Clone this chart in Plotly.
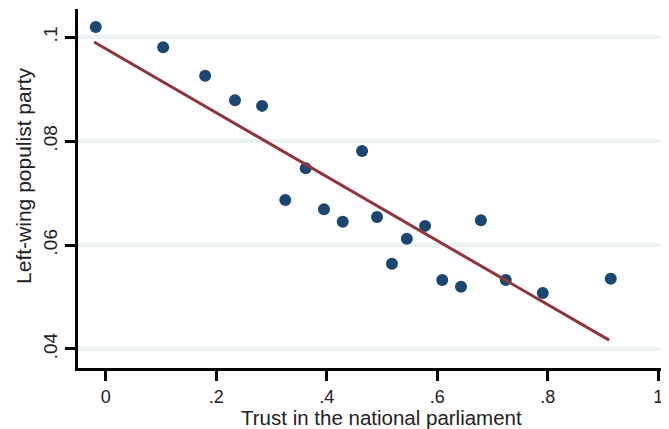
import plotly.graph_objects as go

trust = [-0.018, 0.104, 0.180, 0.234, 0.283, 0.325, 0.362, 0.395, 0.429, 0.464,
         0.491, 0.518, 0.545, 0.578, 0.609, 0.643, 0.679, 0.724, 0.791, 0.914]
leftpop = [0.1020, 0.0981, 0.0926, 0.0879, 0.0868, 0.0687, 0.0748, 0.0669, 0.0645, 0.0781,
           0.0654, 0.0564, 0.0612, 0.0637, 0.0533, 0.0520, 0.0648, 0.0533, 0.0508, 0.0535]

fit_x = [-0.021, 0.911]
fit_y = [0.0991, 0.0417]

x_ticks = [0, 0.2, 0.4, 0.6, 0.8, 1]
x_ticklabels = ["0", ".2", ".4", ".6", ".8", "1"]
y_ticks = [0.04, 0.06, 0.08, 0.1]
y_ticklabels = [".04", ".06", ".08", ".1"]

FONT = "Liberation Sans, Arial, sans-serif"

fig = go.Figure()
fig.add_trace(go.Scatter(x=trust, y=leftpop, mode="markers",
                         marker=dict(size=12, color="#1a476f"), showlegend=False))
fig.add_trace(go.Scatter(x=fit_x, y=fit_y, mode="lines",
                         line=dict(color="#90353b", width=3), showlegend=False))

fig.update_layout(
    width=661, height=421,
    margin=dict(l=70, r=0, t=1, b=61),
    paper_bgcolor="white", plot_bgcolor="white",
    font=dict(family=FONT, color="#222222"),
    xaxis=dict(range=[-0.0501, 1.0194], tickvals=x_ticks, ticktext=x_ticklabels,
               showgrid=False, zeroline=False, showline=True, linecolor="black", linewidth=3,
               ticks="outside", ticklen=10, tickwidth=3, tickcolor="black",
               tickfont=dict(size=18, family=FONT, color="#222222")),
    yaxis=dict(range=[0.03634, 0.10545], tickvals=y_ticks, ticktext=y_ticklabels,
               showgrid=True, gridcolor="#eaf2f3", gridwidth=4, zeroline=False,
               showline=True, linecolor="black", linewidth=3,
               ticks="outside", ticklen=10, tickwidth=3, tickcolor="black", tickangle=-90,
               tickfont=dict(size=19, family=FONT, color="#222222")),
    annotations=[
        dict(text="Trust in the national parliament", xref="paper", yref="paper",
             x=0.513, y=-0.139, xanchor="center", yanchor="middle", showarrow=False,
             font=dict(size=20.5, family=FONT, color="#222222")),
        dict(text="Left-wing populist party", xref="paper", yref="paper",
             x=-0.0914, y=0.535, xanchor="center", yanchor="middle", showarrow=False,
             textangle=-90, font=dict(size=21, family=FONT, color="#222222")),
    ],
)

fig.write_html("out.html")
